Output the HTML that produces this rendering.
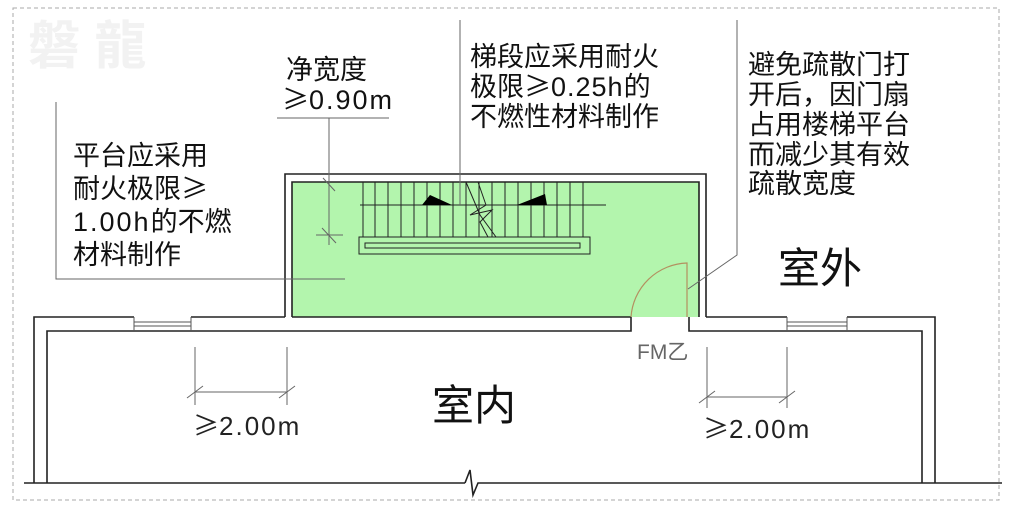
<!DOCTYPE html>
<html><head><meta charset="utf-8"><style>
html,body{margin:0;padding:0;background:#fff;}
svg{display:block;}
text{font-family:"Liberation Sans","Noto Sans CJK SC",sans-serif;}
.g{font-family:"Noto Sans CJK SC",sans-serif;}
</style></head><body>
<svg width="1024" height="513" viewBox="0 0 1024 513" xmlns="http://www.w3.org/2000/svg">
<rect x="13" y="8" width="986" height="492" fill="none" stroke="#aaa" stroke-width="1" stroke-dasharray="4,3"/>
<text x="28" y="64" font-size="52" fill="#f2f2f2" font-weight="bold">磐 龍</text>
<rect x="292" y="182" width="407" height="135" fill="#b3f5ad"/>
<g fill="none" stroke="#222" stroke-width="1.6">
<polyline points="292,317 292,182 699,182 699,317"/>
<polyline points="285,317 285,174 706,174 706,317"/>
<line x1="292" y1="317" x2="631" y2="317"/>
<polyline points="34,483 34,317 134,317"/>
<line x1="191" y1="317" x2="285" y2="317"/>
<polyline points="47,483 47,331 631,331 631,317"/>
<polyline points="689,317 689,331 922,331 922,483"/>
<line x1="706" y1="317" x2="787" y2="317"/>
<polyline points="847,317 935,317 935,483"/>
<line x1="24" y1="483" x2="465" y2="483"/>
<polyline points="465,483 470,470 473,495 478,483 1002,483"/>
</g>
<g fill="none" stroke="#555" stroke-width="1">
<line x1="134" y1="317" x2="134" y2="331"/><line x1="191" y1="317" x2="191" y2="331"/>
<line x1="134" y1="322" x2="191" y2="322"/><line x1="134" y1="326" x2="191" y2="326"/>
<line x1="787" y1="317" x2="787" y2="331"/><line x1="847" y1="317" x2="847" y2="331"/>
<line x1="787" y1="322" x2="847" y2="322"/><line x1="787" y1="326" x2="847" y2="326"/>
</g>
<g stroke="#222" stroke-width="1" fill="none">
<path d="M363 182V237M375 182V237M388 182V237M401 182V237M414 182V237M427 182V237M440 182V237M453 182V237M466 182V237M479 182V237M492 182V237M505 182V237M518 182V237M531 182V237M544 182V237M557 182V237M570 182V237M583 182V237"/>
<line x1="360" y1="205" x2="606" y2="205"/>
<rect x="359" y="237" width="231" height="17"/>
<rect x="365" y="243" width="215" height="5"/>
<polyline points="466,182 480,215 496,237"/>
<polyline points="478,182 486,205 470,215 492,210 480,222 488,237"/>
</g>
<polygon points="422,205 430,195 452,205" fill="#000"/>
<polygon points="517,205 545,194 547,205" fill="#000"/>
<path d="M631 317 A58 58 0 0 1 687 263 V317" fill="none" stroke="#b39060" stroke-width="1.2"/>
<g stroke="#666" stroke-width="1" fill="none">
<polyline points="56,102 56,279 345,279"/>
<polyline points="277,118 389,118"/>
<line x1="329" y1="118" x2="329" y2="245"/>
<line x1="323" y1="178" x2="335" y2="191"/><line x1="316" y1="235" x2="343" y2="235"/><line x1="322" y1="228" x2="336" y2="243"/>
<line x1="460" y1="20" x2="460" y2="205"/>
<polyline points="737,20 737,255 688,289"/>
<path d="M195 347V405M287 347V405M195 392H287M187 398L203 386M279 398L295 386"/>
<path d="M707 347V408M787 347V408M707 397H787M699 403L715 391M779 403L795 391"/>
</g>
<g font-size="27" fill="#111">
<text x="286" y="79">净宽度</text>
<text x="282" y="109"><tspan class="g">≥</tspan><tspan letter-spacing="2">0.90m</tspan></text>
<text x="470" y="66">梯段应采用耐火</text>
<text x="470" y="96">极限<tspan class="g">≥</tspan><tspan letter-spacing="1">0.25h</tspan>的</text>
<text x="470" y="126">不燃性材料制作</text>
<text x="748" y="74">避免疏散门打</text>
<text x="748" y="104">开后，因门扇</text>
<text x="748" y="134">占用楼梯平台</text>
<text x="748" y="164">而减少其有效</text>
<text x="748" y="193">疏散宽度</text>
<text x="73" y="165">平台应采用</text>
<text x="73" y="198">耐火极限<tspan class="g">≥</tspan></text>
<text x="73" y="231"><tspan letter-spacing="2">1.00h</tspan>的不燃</text>
<text x="73" y="264">材料制作</text>
</g>
<text x="432" y="420" font-size="42" fill="#111">室内</text>
<text x="778" y="283" font-size="42" fill="#111">室外</text>
<text x="193" y="435" font-size="26" fill="#222"><tspan class="g">≥</tspan><tspan letter-spacing="2">2.00m</tspan></text>
<text x="703" y="438" font-size="26" fill="#222"><tspan class="g">≥</tspan><tspan letter-spacing="2">2.00m</tspan></text>
<text x="637" y="359" font-size="21" fill="#666">FM乙</text>
</svg>
</body></html>
